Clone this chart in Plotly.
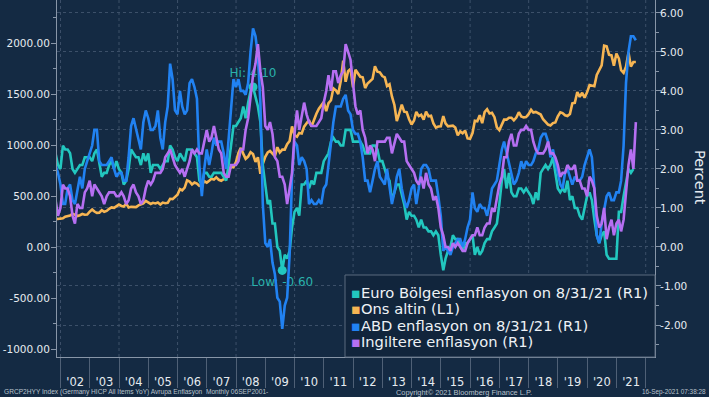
import pandas as pd
import plotly.graph_objects as go

# ---------------- data (monthly, month-end observations) ----------------
dates = pd.date_range("2001-10-31", "2021-08-31", freq="ME")

euro_infl = [
    2.4, 2.1, 2.0,
    2.6, 2.5, 2.5, 2.4, 2.0, 1.9, 2.0, 2.1, 2.1, 2.3, 2.3, 2.3,
    2.2, 2.4, 2.5, 2.1, 1.8, 1.9, 1.9, 2.1, 2.2, 2.0, 2.2, 2.0,
    1.9, 1.6, 1.7, 2.0, 2.5, 2.4, 2.3, 2.3, 2.1, 2.4, 2.2, 2.4,
    1.9, 2.1, 2.1, 2.1, 2.0, 2.1, 2.2, 2.2, 2.6, 2.5, 2.3, 2.2,
    2.4, 2.3, 2.2, 2.5, 2.5, 2.5, 2.4, 2.3, 1.7, 1.6, 1.9, 1.9,
    1.8, 1.8, 1.9, 1.9, 1.9, 1.9, 1.8, 1.7, 2.1, 2.6, 3.1, 3.1,
    3.2, 3.3, 3.6, 3.3, 3.7, 4.0, 4.1, 3.8, 3.6, 3.2, 2.1, 1.6,
    1.1, 1.2, 0.6, 0.6, 0.0, -0.1, -0.6, -0.2, -0.3, -0.1, 0.5, 0.9,
    1.0, 0.8, 1.6, 1.6, 1.7, 1.5, 1.7, 1.6, 1.9, 1.9, 1.9, 2.2,
    2.3, 2.4, 2.7, 2.8, 2.7, 2.7, 2.6, 2.6, 3.0, 3.0, 3.0, 2.7,
    2.7, 2.7, 2.7, 2.6, 2.4, 2.4, 2.4, 2.6, 2.6, 2.5, 2.2, 2.2,
    2.0, 1.8, 1.7, 1.2, 1.4, 1.6, 1.6, 1.3, 1.1, 0.7, 0.9, 0.8,
    0.8, 0.7, 0.5, 0.7, 0.5, 0.5, 0.4, 0.4, 0.3, 0.4, 0.3, -0.2,
    -0.6, -0.3, -0.1, 0.0, 0.3, 0.2, 0.2, 0.1, -0.1, 0.1, 0.1, 0.2,
    0.3, -0.2, 0.0, -0.2, -0.1, 0.1, 0.2, 0.2, 0.4, 0.5, 0.6, 1.1,
    1.7, 2.0, 1.5, 1.9, 1.4, 1.3, 1.3, 1.5, 1.5, 1.4, 1.5, 1.4,
    1.3, 1.1, 1.4, 1.2, 1.9, 2.0, 2.1, 2.0, 2.1, 2.3, 1.9, 1.5,
    1.4, 1.5, 1.4, 1.7, 1.2, 1.3, 1.0, 1.0, 0.8, 0.7, 1.0, 1.3,
    1.4, 1.2, 0.7, 0.3, 0.1, 0.3, 0.4, -0.2, -0.3, -0.3, -0.3, -0.3,
    0.9, 0.9, 1.3, 1.6, 2.0, 1.9, 2.0,
]

gold = [
    279, 275, 279,
    282, 297, 302, 308, 327, 318, 304, 312, 324, 317, 319, 347,
    368, 348, 335, 337, 361, 346, 354, 375, 388, 384, 398, 416,
    403, 397, 426, 388, 394, 395, 391, 408, 416, 429, 453, 438,
    423, 434, 428, 436, 417, 436, 430, 433, 473, 470, 495, 513,
    569, 556, 582, 654, 643, 614, 633, 623, 599, 604, 646, 632,
    650, 669, 662, 683, 659, 650, 665, 673, 743, 789, 783, 834,
    923, 972, 916, 865, 887, 930, 912, 834, 880, 718, 815, 884,
    928, 942, 917, 891, 979, 927, 955, 955, 1008, 1040, 1182, 1097,
    1081, 1119, 1113, 1180, 1213, 1244, 1181, 1248, 1307, 1357, 1386, 1421,
    1332, 1411, 1439, 1556, 1536, 1500, 1628, 1828, 1620, 1725, 1746, 1566,
    1738, 1710, 1669, 1664, 1559, 1604, 1622, 1648, 1773, 1719, 1713, 1676,
    1664, 1578, 1596, 1476, 1393, 1234, 1313, 1396, 1327, 1323, 1253, 1202,
    1240, 1326, 1284, 1296, 1250, 1327, 1282, 1287, 1211, 1171, 1182, 1184,
    1284, 1213, 1183, 1184, 1190, 1172, 1095, 1134, 1115, 1142, 1065, 1061,
    1118, 1238, 1233, 1293, 1215, 1322, 1351, 1309, 1316, 1273, 1173, 1146,
    1211, 1249, 1249, 1268, 1268, 1242, 1269, 1322, 1280, 1271, 1275, 1303,
    1345, 1318, 1325, 1316, 1299, 1253, 1224, 1201, 1192, 1215, 1222, 1282,
    1321, 1313, 1292, 1284, 1305, 1409, 1414, 1520, 1472, 1513, 1464, 1517,
    1589, 1585, 1577, 1687, 1730, 1781, 1975, 1968, 1886, 1879, 1777, 1898,
    1848, 1734, 1708, 1769, 1907, 1770, 1814, 1814,
]

us_infl = [
    2.1, 1.9, 1.6,
    1.1, 1.1, 1.5, 1.6, 1.2, 1.1, 1.5, 1.8, 1.5, 2.0, 2.2, 2.4,
    2.6, 3.0, 3.0, 2.2, 2.1, 2.1, 2.1, 2.2, 2.3, 2.0, 1.8, 1.9,
    1.9, 1.7, 1.7, 2.3, 3.1, 3.3, 3.0, 2.7, 2.5, 3.2, 3.5, 3.3,
    3.0, 3.0, 3.1, 3.5, 2.8, 2.5, 3.2, 3.6, 4.7, 4.3, 3.5, 3.4,
    4.0, 3.6, 3.4, 3.5, 4.2, 4.3, 4.1, 3.8, 2.1, 1.3, 2.0, 2.5,
    2.1, 2.4, 2.8, 2.6, 2.7, 2.7, 2.4, 2.0, 2.8, 3.5, 4.3, 4.1,
    4.3, 4.0, 4.0, 3.9, 4.2, 5.0, 5.6, 5.4, 4.9, 3.7, 1.1, 0.1,
    0.0, 0.2, -0.4, -0.7, -1.3, -1.4, -2.1, -1.5, -1.3, -0.2, 1.8, 2.7,
    2.6, 2.1, 2.3, 2.2, 2.0, 1.1, 1.2, 1.1, 1.1, 1.2, 1.1, 1.5,
    1.6, 2.1, 2.7, 3.2, 3.6, 3.6, 3.6, 3.8, 3.9, 3.5, 3.4, 3.0,
    2.9, 2.9, 2.7, 2.3, 1.7, 1.7, 1.4, 1.7, 2.0, 2.2, 1.8, 1.7,
    1.6, 2.0, 1.5, 1.1, 1.4, 1.8, 2.0, 1.5, 1.2, 1.0, 1.2, 1.5,
    1.6, 1.1, 1.5, 2.0, 2.1, 2.1, 2.0, 1.7, 1.7, 1.7, 1.3, 0.8,
    -0.1, 0.0, -0.1, -0.2, 0.0, 0.1, 0.2, 0.2, 0.0, 0.2, 0.5, 0.7,
    1.4, 1.0, 0.9, 1.1, 1.0, 1.0, 0.8, 1.1, 1.5, 1.6, 1.7, 2.1,
    2.5, 2.7, 2.4, 2.2, 1.9, 1.6, 1.7, 1.9, 2.2, 2.0, 2.2, 2.1,
    2.1, 2.2, 2.4, 2.5, 2.8, 2.9, 2.9, 2.7, 2.3, 2.5, 2.2, 1.9,
    1.6, 1.5, 1.9, 2.0, 1.8, 1.6, 1.8, 1.7, 1.7, 1.8, 2.1, 2.3,
    2.5, 2.3, 1.5, 0.3, 0.1, 0.6, 1.0, 1.3, 1.4, 1.2, 1.2, 1.4,
    1.4, 1.7, 2.6, 4.2, 5.0, 5.4, 5.4, 5.3,
]

uk_infl = [
    1.2, 0.8, 1.0,
    1.6, 1.5, 1.5, 1.3, 0.8, 0.6, 1.1, 1.0, 1.0, 1.4, 1.5, 1.7,
    1.3, 1.6, 1.5, 1.4, 1.3, 1.1, 1.3, 1.4, 1.4, 1.4, 1.3, 1.3,
    1.4, 1.3, 1.1, 1.2, 1.5, 1.6, 1.4, 1.3, 1.1, 1.2, 1.5, 1.7,
    1.6, 1.7, 1.9, 1.9, 1.9, 2.0, 2.3, 2.4, 2.5, 2.3, 2.1, 2.0,
    1.9, 2.0, 1.8, 2.0, 2.2, 2.5, 2.4, 2.5, 2.4, 2.4, 2.7, 3.0,
    2.7, 2.8, 3.1, 2.8, 2.5, 2.4, 1.9, 1.8, 1.8, 2.1, 2.1, 2.1,
    2.2, 2.5, 2.5, 3.0, 3.3, 3.8, 4.4, 4.7, 5.2, 4.5, 4.1, 3.1,
    3.0, 3.2, 2.9, 2.3, 2.2, 1.8, 1.8, 1.6, 1.1, 1.5, 1.9, 2.9,
    3.5, 3.0, 3.4, 3.7, 3.4, 3.2, 3.1, 3.1, 3.1, 3.2, 3.3, 3.7,
    4.0, 4.4, 4.0, 4.5, 4.5, 4.2, 4.4, 4.5, 5.2, 5.0, 4.8, 4.2,
    3.6, 3.4, 3.5, 3.0, 2.8, 2.4, 2.6, 2.5, 2.2, 2.7, 2.7, 2.7,
    2.7, 2.8, 2.8, 2.4, 2.7, 2.9, 2.8, 2.7, 2.7, 2.2, 2.1, 2.0,
    1.9, 1.7, 1.6, 1.8, 1.5, 1.9, 1.6, 1.5, 1.2, 1.3, 1.0, 0.5,
    0.3, 0.0, 0.0, -0.1, 0.1, 0.0, 0.1, 0.0, -0.1, -0.1, 0.1, 0.2,
    0.3, 0.3, 0.5, 0.3, 0.3, 0.5, 0.6, 0.6, 1.0, 0.9, 1.2, 1.6,
    1.8, 2.3, 2.3, 2.7, 2.9, 2.6, 2.6, 2.9, 3.0, 3.0, 3.1, 3.0,
    3.0, 2.7, 2.5, 2.4, 2.4, 2.4, 2.5, 2.7, 2.4, 2.4, 2.3, 2.1,
    1.8, 1.9, 1.9, 2.1, 2.0, 2.0, 2.1, 1.7, 1.7, 1.5, 1.5, 1.3,
    1.8, 1.7, 1.5, 0.8, 0.5, 0.6, 1.0, 0.2, 0.5, 0.7, 0.3, 0.6,
    0.7, 0.4, 0.7, 1.5, 2.1, 2.5, 2.0, 3.2,
]

series_names = [
    "Euro Bölgesi enflasyon on 8/31/21 (R1)",
    "Ons altin (L1)",
    "ABD enflasyon on 8/31/21 (R1)",
    "Ingiltere enflasyon (R1)",
]
series_colors = ["#22c7bf", "#f6b553", "#2182f2", "#b66ff2"]

left_tickvals = [-1000, -500, 0, 500, 1000, 1500, 2000]
left_ticktext = [f"{v:.2f}" for v in left_tickvals]
right_tickvals = [-2, -1, 0, 1, 2, 3, 4, 5, 6]
right_ticktext = [f"{v:.2f}" for v in right_tickvals]
grid_years = list(range(2002, 2023, 2))

footer_left = "GRCP2HYY Index (Germany HICP All Items YoY) Avrupa Enflasyon\u00a0\u00a0Monthly 06SEP2001-"
footer_mid = "Copyright\u00a9 2021 Bloomberg Finance L.P."
footer_right = "16-Sep-2021 07:38:28"

X_RANGE = ["2001-11-18", "2022-04-27"]

# ---------------- style ----------------
BG = "#142a43"
GRID = "#3c5069"
AXIS = "#8896a8"
TICK = "#4f6076"
TXT = "#e6ebf0"
FONT = "DejaVu Sans"
FOOT_FONT = "Liberation Sans Narrow, Arial Narrow, Liberation Sans"
FOOT_COL = "#b9c2cc"
W, H = 709, 397
ML, MR, MT, MB = 57, 54, 0, 40


def px_x(p):
    return (p - ML) / (W - ML - MR)


def px_y(p):
    return (H - MB - p) / (H - MT - MB)


fig = go.Figure()

fig.add_trace(go.Scatter(x=dates[:len(gold)], y=gold, mode="lines", name=series_names[1],
                         line=dict(color=series_colors[1], width=2.6),
                         yaxis="y", showlegend=False))

# Hi / Low markers for the euro series (below the lines)
hi_i = euro_infl.index(max(euro_infl))
lo_i = euro_infl.index(min(euro_infl))
fig.add_trace(go.Scatter(
    x=[dates[hi_i], dates[lo_i]], y=[euro_infl[hi_i], euro_infl[lo_i]],
    mode="markers+text",
    text=[f"Hi: {euro_infl[hi_i]:.2f}", f"Low: {euro_infl[lo_i]:.2f}"],
    textposition=["top center", "bottom center"],
    textfont=dict(family=FONT, size=12, color="#2ab2ac"),
    marker=dict(color=series_colors[0], size=9),
    yaxis="y2", showlegend=False, hoverinfo="skip",
))

fig.add_trace(go.Scatter(x=dates[:len(euro_infl)], y=euro_infl, mode="lines", name=series_names[0],
                         line=dict(color=series_colors[0], width=2.6),
                         yaxis="y2", showlegend=False))
fig.add_trace(go.Scatter(x=dates[:len(us_infl)], y=us_infl, mode="lines", name=series_names[2],
                         line=dict(color=series_colors[2], width=2.6),
                         yaxis="y2", showlegend=False))
fig.add_trace(go.Scatter(x=dates[:len(uk_infl)], y=uk_infl, mode="lines", name=series_names[3],
                         line=dict(color=series_colors[3], width=2.6),
                         yaxis="y2", showlegend=False))

# gridlines every two years + legend box
shapes = [dict(
    type="line", xref="x", yref="paper", layer="below",
    x0=f"{yr}-01-01", x1=f"{yr}-01-01", y0=0, y1=1,
    line=dict(color=GRID, width=1, dash="dot"),
) for yr in grid_years]
shapes.append(dict(
    type="rect", xref="paper", yref="paper", layer="above",
    x0=px_x(345), x1=1.0, y0=0.0, y1=px_y(275),
    fillcolor="#11253c", line=dict(color="#5a6a7f", width=1),
))

# legend rows (coloured square + name)
legend_rows_y = [292, 308.5, 325, 341.5]
annotations = [
    dict(text=f"<span style='color:{col}'>\u25aa</span>{name}",
         xref="paper", yref="paper", x=px_x(349), y=px_y(yy),
         xanchor="left", yanchor="middle", showarrow=False,
         font=dict(family=FONT, size=14.7, color="#eef2f6"))
    for name, col, yy in zip(series_names, series_colors, legend_rows_y)
]
annotations += [
    dict(text="Percent", xref="paper", yref="paper",
         x=px_x(700), y=px_y(177), showarrow=False, textangle=90,
         font=dict(family=FONT, size=14.5, color=TXT),
         xanchor="center", yanchor="middle"),
    dict(text=footer_left, xref="paper", yref="paper",
         x=px_x(2), y=px_y(392), showarrow=False, xanchor="left", yanchor="middle",
         font=dict(family=FOOT_FONT, size=6.6, color=FOOT_COL)),
    dict(text=footer_mid, xref="paper", yref="paper",
         x=px_x(394), y=px_y(392), showarrow=False, xanchor="left", yanchor="middle",
         font=dict(family=FOOT_FONT, size=7.4, color=FOOT_COL)),
    dict(text=footer_right, xref="paper", yref="paper",
         x=px_x(708), y=px_y(392), showarrow=False, xanchor="right", yanchor="middle",
         font=dict(family=FOOT_FONT, size=6.4, color=FOOT_COL)),
]

fig.update_layout(
    width=W, height=H,
    margin=dict(l=ML, r=MR, t=MT, b=MB, pad=0, autoexpand=False),
    paper_bgcolor=BG, plot_bgcolor=BG,
    font=dict(family=FONT, color=TXT),
    showlegend=False,
    xaxis=dict(
        type="date", range=X_RANGE,
        tickmode="linear", tick0="2002-01-01", dtick="M12",
        ticklabelmode="period", tickformat="'%y",
        ticks="outside", ticklen=30, tickwidth=1, tickcolor=TICK,
        ticklabelstandoff=-16,
        tickfont=dict(family=FONT, size=11.5, color=TXT),
        showgrid=False, zeroline=False,
        showline=True, linecolor=AXIS, linewidth=1,
    ),
    yaxis=dict(
        range=[-1078, 2422], tickmode="array",
        tickvals=left_tickvals, ticktext=left_ticktext,
        ticks="outside", ticklen=5, tickcolor=AXIS, tickwidth=1,
        ticklabelstandoff=-1,
        tickfont=dict(family=FONT, size=10.5, color=TXT),
        showgrid=False, zeroline=False,
        showline=True, linecolor=AXIS, linewidth=1,
        minor=dict(tickmode="linear", tick0=0, dtick=250, ticks="outside",
                   ticklen=3, tickcolor=AXIS, showgrid=False),
    ),
    yaxis2=dict(
        overlaying="y", side="right",
        range=[-2.82, 6.33], tickmode="array",
        tickvals=right_tickvals, ticktext=right_ticktext,
        ticks="outside", ticklen=5, tickcolor=AXIS, tickwidth=1,
        ticklabelstandoff=-3,
        tickfont=dict(family=FONT, size=10.5, color=TXT),
        showgrid=True, gridcolor=GRID, griddash="dot", gridwidth=1,
        zeroline=False, showline=True, linecolor=AXIS, linewidth=1,
        minor=dict(tickmode="linear", tick0=0, dtick=0.5, ticks="outside",
                   ticklen=3, tickcolor=AXIS, showgrid=False),
    ),
    shapes=shapes,
    annotations=annotations,
)

fig.write_html(
    "out.html",
    config={"displayModeBar": False},
    post_script=f"document.body.style.margin='0';document.body.style.background='{BG}';",
)
